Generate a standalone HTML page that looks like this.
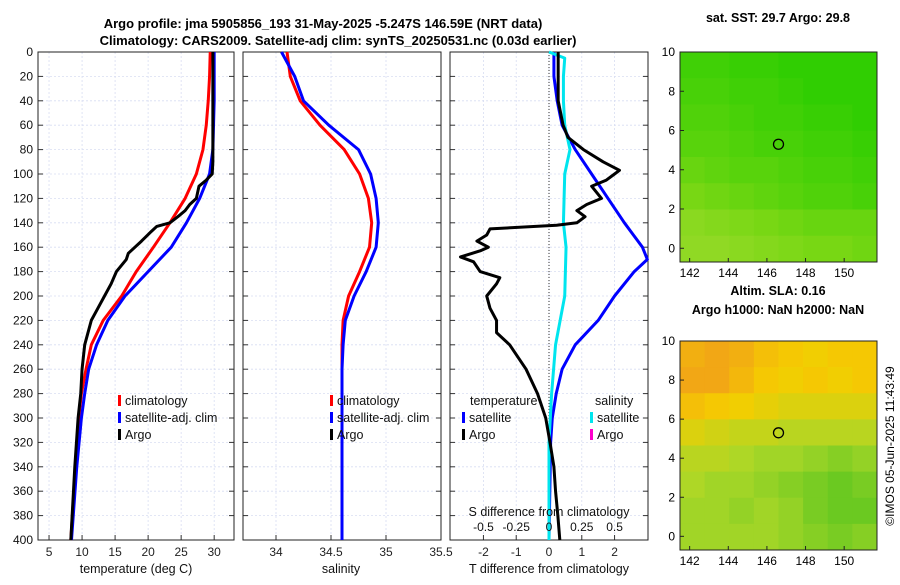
<!DOCTYPE html>
<html><head><meta charset="utf-8"><style>
body{margin:0;background:#fff;}
svg{font-family:"Liberation Sans","DejaVu Sans",sans-serif;}
</style></head><body>
<svg id="fig" width="900" height="580" viewBox="0 0 900 580">
<text x="323" y="28" font-size="13" font-weight="bold" text-anchor="middle">Argo profile: jma 5905856_193 31-May-2025 -5.247S 146.59E (NRT data)</text>
<text x="338" y="45" font-size="13" font-weight="bold" text-anchor="middle">Climatology: CARS2009. Satellite-adj clim: synTS_20250531.nc (0.03d earlier)</text>
<text x="778" y="22" font-size="12.5" font-weight="bold" text-anchor="middle">sat. SST: 29.7 Argo: 29.8</text>
<text x="778" y="295" font-size="12.5" font-weight="bold" text-anchor="middle">Altim. SLA: 0.16</text>
<text x="778" y="314" font-size="12.5" font-weight="bold" text-anchor="middle">Argo h1000: NaN h2000: NaN</text>
<text transform="translate(894,446) rotate(-90)" font-size="12" text-anchor="middle">©IMOS 05-Jun-2025 11:43:49</text>
<g id="g"></g>
</svg>
<script>
const depths=[0,20,40,60,80,100,120,140,160,180,200,220,240,260,280,300,340,400];
const tClim=[29.4,29.3,29.1,28.8,28.3,27.3,25.6,23.3,20.8,18.2,16.0,13.2,11.4,10.6,9.9,9.5,9.0,8.3];
const tSat=[30.0,30.0,30.0,29.9,29.8,29.3,27.8,25.8,23.5,20.0,16.5,13.9,12.2,11.0,10.4,9.9,9.2,8.4];
const argoDepth=[0,40,80,90,100,105,110,120,125,130,135,140,143,147,155,165,170,180,190,200,210,220,240,260,280,300,340,400];
const argoT=[29.8,29.8,29.8,29.8,29.7,28.8,27.7,27.3,26.3,25.6,24.5,23.3,21.3,20.5,19.0,17.0,16.7,15.2,14.4,13.4,12.4,11.4,10.4,10.0,9.8,9.4,8.9,8.3];
const sClim=[34.10,34.13,34.22,34.40,34.62,34.76,34.84,34.87,34.85,34.76,34.66,34.61,34.60,34.60,34.60,34.60,34.60,34.60];
const sSat=[34.05,34.17,34.25,34.48,34.75,34.86,34.91,34.93,34.91,34.82,34.71,34.63,34.61,34.60,34.60,34.60,34.60,34.60];
const dArgoDepth=[0,40,60,70,80,90,97,100,105,110,115,120,125,130,135,140,142,145,150,155,160,163,168,172,176,180,185,190,200,210,220,230,240,260,280,300,320,340,360,380,400];
const dArgoT=[0.28,0.28,0.43,0.58,1.05,1.65,2.15,2.0,1.75,1.3,1.45,1.6,1.15,0.85,1.1,0.85,0.23,-1.8,-1.9,-2.2,-1.85,-2.1,-2.7,-2.3,-2.2,-2.1,-1.5,-1.6,-1.9,-1.8,-1.6,-1.6,-1.2,-0.7,-0.35,-0.1,0.03,0.15,0.2,0.27,0.33];
const dSatT=[0.15,0.15,0.25,0.4,0.8,1.3,1.8,2.3,2.85,3.0,2.6,2.0,1.5,0.8,0.4,0.22,0.1,0.05,0.0];
const dSatTDepth=[0,20,40,60,80,100,120,140,160,170,180,200,220,240,260,280,300,320,400];
const dSatSDepth=[0,5,20,40,60,80,100,140,160,200,240,280,320,400];
const dSatS=[0,0.12,0.11,0.11,0.12,0.16,0.12,0.11,0.13,0.12,0.05,0.02,0.0,0.0];
const depthTicks=[0,20,40,60,80,100,120,140,160,180,200,220,240,260,280,300,320,340,360,380,400];
const tTicks=[5,10,15,20,25,30], sTicks=[34,34.5,35,35.5], dTicks=[-2,-1,0,1,2], dsTicks=[-0.5,-0.25,0,0.25,0.5];
const mapX=[142,144,146,148,150], mapY=[0,2,4,6,8,10];
const sstGrid=[[.85,.85,.9,.9,.95,.95,.95,.95],[.8,.8,.85,.85,.9,.95,.95,.95],[.75,.75,.8,.85,.85,.9,.9,.95],[.7,.7,.75,.8,.8,.85,.85,.9],[.6,.65,.7,.7,.75,.8,.8,.85],[.5,.55,.6,.65,.7,.75,.75,.8],[.35,.4,.45,.5,.55,.6,.6,.6],[.3,.3,.35,.4,.45,.5,.5,.55]];
const slaGrid=[[.15,.1,.15,.25,.3,.35,.3,.3],[.1,.1,.2,.3,.35,.3,.35,.3],[.25,.3,.35,.4,.45,.45,.45,.45],[.45,.5,.55,.55,.6,.6,.6,.6],[.6,.6,.65,.7,.7,.75,.8,.75],[.65,.7,.7,.75,.8,.85,.9,.85],[.7,.7,.75,.7,.75,.85,.9,.9],[.7,.7,.7,.7,.75,.8,.85,.8]];
const NS='http://www.w3.org/2000/svg', G=document.getElementById('g');
function mk(t,a,p){const e=document.createElementNS(NS,t);for(const k in a)e.setAttribute(k,a[k]);(p||G).appendChild(e);return e;}
const Y0=52,Y1=540;
const yD=d=>Y0+(d/400)*(Y1-Y0);
function panel(x0,x1,xmin,xmax,ticks,fmt,name){
  const sx=v=>x0+(v-xmin)/(xmax-xmin)*(x1-x0);
  const g=mk('g',{});
  
  
  ticks.forEach(t=>{mk('line',{x1:sx(t),x2:sx(t),y1:Y0,y2:Y1,stroke:'#d8ddf2','stroke-dasharray':'2,2','stroke-width':0.8},g);
    mk('line',{x1:sx(t),x2:sx(t),y1:Y1,y2:Y1-5,stroke:'#333'},g);
    const tx=mk('text',{x:sx(t),y:556,'font-size':12,'text-anchor':'middle',fill:'#222'},g);tx.textContent=fmt(t);});
  depthTicks.forEach(d=>{mk('line',{x1:x0,x2:x1,y1:yD(d),y2:yD(d),stroke:'#d8ddf2','stroke-dasharray':'2,2','stroke-width':0.8},g);
    mk('line',{x1:x0,x2:x0+5,y1:yD(d),y2:yD(d),stroke:'#333'},g);mk('line',{x1:x1,x2:x1-5,y1:yD(d),y2:yD(d),stroke:'#333'},g);});
  mk('rect',{x:x0,y:Y0,width:x1-x0,height:Y1-Y0,fill:'none',stroke:'#222','stroke-width':1},g);
  return sx;
}
function line(sx,xs,ds,col,name,w){const p=mk('polyline',{points:xs.map((v,i)=>sx(v)+','+yD(ds[i])).join(' '),fill:'none',stroke:col,'stroke-width':w||3,'stroke-linejoin':'round'});
  
  }
function txt(x,y,s,name,sz,anchor){const t=mk('text',{x:x,y:y,'font-size':sz||12.5,'text-anchor':anchor||'start',fill:'#111'});t.textContent=s;
  
  return t;}
// panel 1
const sT=panel(38,234,3.33,33.0,tTicks,String,'temperature-panel');
depthTicks.forEach(d=>txt(33,yD(d)+4,String(d),'depth-tick-label',12,'end'));
line(sT,tClim,depths,'#ff0000','temp-climatology-line');
line(sT,tSat,depths,'#0000ff','temp-satellite-line');
line(sT,argoT,argoDepth,'#000','temp-argo-line');
txt(136,573,'temperature (deg C)','x-axis-title-temperature',12.5,'middle');
function legend(x,y,items,pre){items.forEach((it,i)=>{mk('rect',{x:x,y:y+i*17-10,width:3,height:11,fill:it[1]});txt(x+7,y+i*17,it[0],pre+'-legend-entry',12.5);});}
legend(118,405,[['climatology','#ff0000'],['satellite-adj. clim','#0000ff'],['Argo','#000']],'temp');
// panel 2
const sS=panel(243,441,33.7,35.5,sTicks,String,'salinity-panel');
line(sS,sClim,depths,'#ff0000','sal-climatology-line');
line(sS,sSat,depths,'#0000ff','sal-satellite-line');
txt(341,573,'salinity','x-axis-title-salinity',12.5,'middle');
legend(330,405,[['climatology','#ff0000'],['satellite-adj. clim','#0000ff'],['Argo','#000']],'sal');
// panel 3
const sD=panel(450,648,-3.02,3.02,dTicks,String,'difference-panel');
mk('line',{x1:sD(0),x2:sD(0),y1:Y0,y2:Y1,stroke:'#333','stroke-dasharray':'1,2'});
line(sD,dSatT,dSatTDepth,'#0000ff','tdiff-satellite-line');
line(sD,dSatS.map(v=>v*4),dSatSDepth,'#00e5ee','sdiff-satellite-line');
line(sD,dArgoT,dArgoDepth,'#000','tdiff-argo-line');
dsTicks.forEach(t=>txt(sD(t*4),531,String(t),'s-diff-tick',12,'middle'));
txt(549,516,'S difference from climatology','s-diff-axis-title',12.5,'middle');
txt(549,573,'T difference from climatology','t-diff-axis-title',12.5,'middle');
txt(470,405,'temperature','legend-temperature-header',12.5);
txt(595,405,'salinity','legend-salinity-header',12.5);
legend(462,422,[['satellite','#0000ff'],['Argo','#000']],'tdiff');
legend(590,422,[['satellite','#00e5ee'],['Argo','#ff00cc']],'sdiff');
// maps
const c1=[[180,220,60],[120,215,20],[40,205,0]];
const c2=[[240,150,30],[245,205,0],[170,215,40],[80,195,30]];
function cmap(stops,v){const n=stops.length-1,f=Math.min(v*n,n-1e-6),i=Math.floor(f),r=f-i;return 'rgb('+stops[i].map((c,k)=>Math.round(c+(stops[i+1][k]-c)*r)).join(',')+')';}
function map(y0,y1,grid,stops,name){
  const x0=680,x1=877,xmin=141.5,xmax=151.7,ymin=-0.7,ymax=10;
  const sx=v=>x0+(v-xmin)/(xmax-xmin)*(x1-x0), sy=v=>y1-(v-ymin)/(ymax-ymin)*(y1-y0);
  const g=mk('g',{});
  
  
  const R=grid.length,C=grid[0].length,cw=(x1-x0)/C,ch=(y1-y0)/R;
  grid.forEach((row,r)=>row.forEach((v,c)=>mk('rect',{x:x0+c*cw,y:y0+r*ch,width:cw+0.5,height:ch+0.5,fill:cmap(stops,v)},g)));
  mk('rect',{x:x0,y:y0,width:x1-x0,height:y1-y0,fill:'none',stroke:'#222'},g);
  mapX.forEach(t=>{mk('line',{x1:sx(t),x2:sx(t),y1:y1,y2:y1-4,stroke:'#222'},g);const e=mk('text',{x:sx(t),y:y1+15,'font-size':12,'text-anchor':'middle'},g);e.textContent=t;});
  mapY.forEach(t=>{mk('line',{x1:x0,x2:x0+4,y1:sy(t),y2:sy(t),stroke:'#222'},g);const e=mk('text',{x:x0-5,y:sy(t)+4,'font-size':12,'text-anchor':'end'},g);e.textContent=t;});
  const c=mk('circle',{cx:sx(146.6),cy:sy(5.3),r:5,fill:'none',stroke:'#000','stroke-width':1.3},g);
  
  
}
map(52,262,sstGrid,c1,'sst-map');
map(341,550,slaGrid,c2,'sla-map');
</script>
</body></html>
